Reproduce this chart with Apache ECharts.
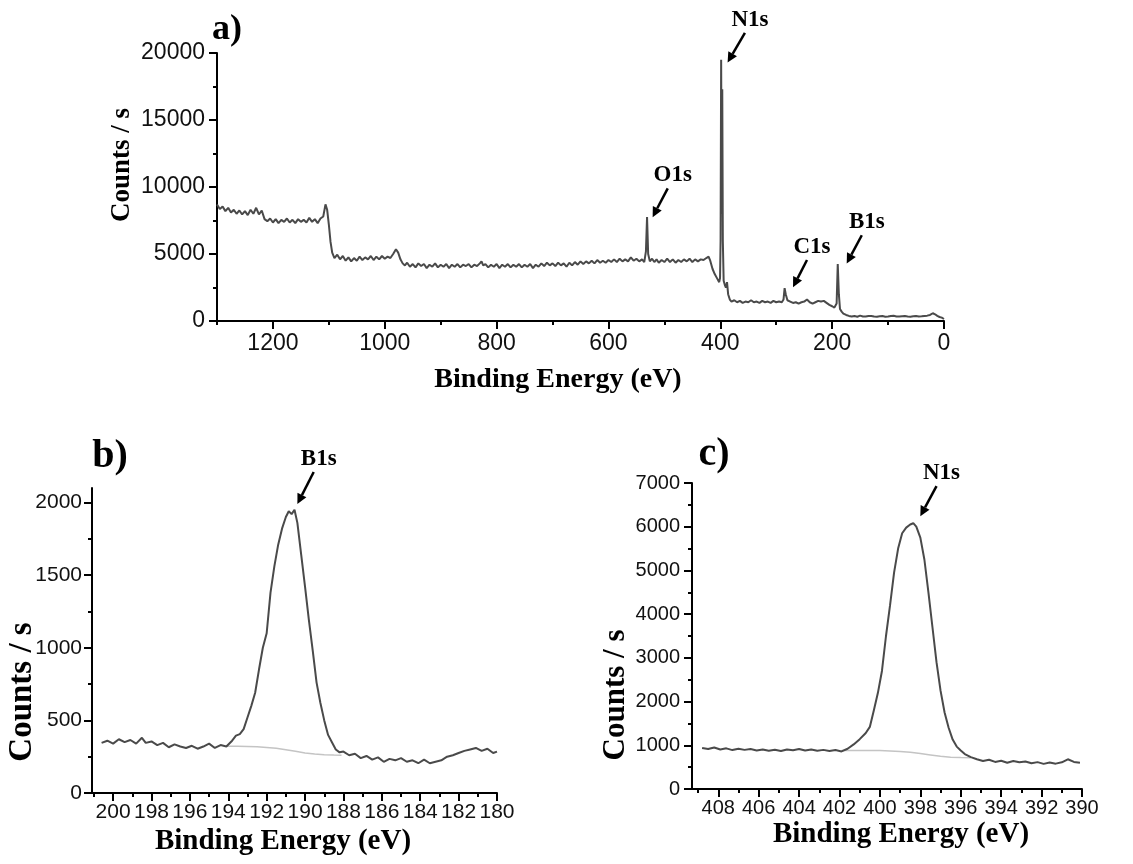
<!DOCTYPE html>
<html>
<head>
<meta charset="utf-8">
<title>XPS spectra</title>
<script src="https://cdn.jsdelivr.net/npm/echarts@6.0.0/dist/echarts.min.js"></script>
<style>
html, body { margin: 0; padding: 0; background: #fff; }
#chart { width: 1133px; height: 864px; }
</style>
</head>
<body>
<div id="chart"></div>
<script>
// a) survey spectrum [binding energy eV, counts/s]
const surveyData = [
  [1300, 8700], [1295, 8350], [1290, 8550], [1285, 8200], [1280, 8450], [1275, 8100], [1270, 8300], [1265, 8000],
  [1260, 8250], [1255, 7950], [1250, 8200], [1245, 7900], [1240, 8300], [1235, 8000], [1230, 8450], [1225, 7950],
  [1220, 8250], [1215, 7600], [1210, 7450], [1205, 7650], [1200, 7350], [1195, 7600], [1190, 7300], [1185, 7550],
  [1180, 7400], [1175, 7650], [1170, 7350], [1165, 7550], [1160, 7300], [1155, 7600], [1150, 7400], [1145, 7550],
  [1140, 7350], [1135, 7700], [1130, 7400], [1125, 7600], [1120, 7300], [1115, 7650], [1110, 7800], [1106, 8700],
  [1103, 8300], [1100, 7200], [1097, 5900], [1094, 5100], [1090, 4700], [1085, 4950], [1080, 4600], [1075, 4850],
  [1070, 4500], [1065, 4750], [1060, 4450], [1055, 4700], [1050, 4500], [1045, 4800], [1040, 4550], [1035, 4750],
  [1030, 4600], [1025, 4850], [1020, 4550], [1015, 4800], [1010, 4600], [1005, 4850], [1000, 4650], [995, 4800],
  [990, 4700], [985, 5000], [980, 5350], [976, 5100], [972, 4600], [968, 4300], [964, 4150], [960, 4350],
  [955, 4050], [950, 4250], [945, 4000], [940, 4300], [935, 4100], [930, 4250], [925, 3950], [920, 4200],
  [915, 4050], [910, 4300], [905, 4000], [900, 4200], [895, 4050], [890, 4250], [885, 3950], [880, 4200],
  [875, 4050], [870, 4250], [865, 4000], [860, 4200], [855, 4100], [850, 4250], [845, 4000], [840, 4200],
  [835, 4100], [830, 4300], [827, 4450], [824, 4150], [820, 4250], [815, 4000], [810, 4200], [805, 4050],
  [800, 4250], [795, 3950], [790, 4200], [785, 4050], [780, 4250], [775, 4000], [770, 4200], [765, 4050],
  [760, 4250], [755, 4000], [750, 4200], [745, 4050], [740, 4250], [735, 3950], [730, 4200], [725, 4050],
  [720, 4300], [715, 4100], [710, 4350], [705, 4150], [700, 4300], [695, 4100], [690, 4350], [685, 4150],
  [680, 4300], [675, 4050], [670, 4350], [665, 4150], [660, 4400], [655, 4200], [650, 4450], [645, 4250],
  [640, 4450], [635, 4300], [630, 4500], [625, 4300], [620, 4550], [615, 4350], [610, 4500], [605, 4350],
  [600, 4550], [595, 4400], [590, 4600], [585, 4400], [580, 4650], [575, 4450], [570, 4600], [565, 4450],
  [560, 4750], [555, 4500], [550, 4650], [545, 4450], [540, 4600], [536, 4400], [533, 5200], [531, 7750],
  [529, 5000], [526, 4450], [522, 4650], [518, 4400], [514, 4600], [510, 4350], [505, 4550], [500, 4400],
  [495, 4650], [490, 4400], [485, 4600], [480, 4350], [475, 4550], [470, 4400], [465, 4600], [460, 4450],
  [455, 4650], [450, 4400], [445, 4600], [440, 4450], [435, 4600], [430, 4550], [425, 4700], [421, 4800],
  [418, 4500], [414, 3900], [410, 3500], [406, 3200], [402, 2900], [400.5, 3200], [399.5, 6000], [398.5, 19500],
  [397.5, 8000], [396.5, 17300], [395.5, 6000], [394, 3000], [392, 2700], [390, 2500], [388, 2900], [386, 2000],
  [383, 1600], [380, 1450], [375, 1550], [370, 1400], [365, 1500], [360, 1350], [355, 1450], [350, 1400],
  [345, 1550], [340, 1400], [335, 1450], [330, 1350], [325, 1500], [320, 1400], [315, 1450], [310, 1350],
  [305, 1500], [300, 1400], [295, 1450], [290, 1400], [287, 1600], [285, 2450], [283, 2000], [280, 1550],
  [275, 1450], [270, 1350], [265, 1400], [260, 1300], [255, 1400], [250, 1450], [245, 1600], [240, 1400],
  [235, 1300], [230, 1400], [225, 1500], [220, 1450], [215, 1500], [210, 1350], [205, 1200], [200, 1100],
  [196, 1000], [192, 1300], [190, 4250], [188, 2000], [186, 900], [183, 700], [180, 550], [175, 450],
  [170, 380], [165, 330], [160, 370], [155, 320], [150, 400], [145, 340], [140, 330], [135, 370],
  [130, 380], [125, 330], [120, 320], [115, 360], [110, 370], [105, 320], [100, 340], [95, 380],
  [90, 390], [85, 340], [80, 330], [75, 360], [70, 370], [65, 330], [60, 320], [55, 350],
  [50, 380], [45, 340], [40, 350], [35, 380], [30, 400], [25, 450], [20, 580], [16, 500],
  [12, 380], [8, 300], [4, 250], [0, 150]
];

// b) B1s high resolution
const b1sData = [
  [200.6, 345], [200.3, 360], [200.0, 340], [199.7, 370], [199.4, 350], [199.1, 365], [198.8, 340], [198.5, 380],
  [198.3, 345], [198.0, 355], [197.7, 330], [197.4, 345], [197.1, 315], [196.8, 335], [196.5, 320], [196.2, 310],
  [195.9, 325], [195.6, 305], [195.3, 320], [195.0, 340], [194.7, 310], [194.4, 330], [194.1, 320], [193.8, 360],
  [193.6, 395], [193.4, 405], [193.2, 440], [193.0, 520], [192.8, 600], [192.6, 690], [192.4, 850], [192.2, 1000],
  [192.0, 1100], [191.8, 1380], [191.6, 1560], [191.4, 1710], [191.2, 1820], [191.0, 1900], [190.85, 1940], [190.7, 1920],
  [190.55, 1950], [190.4, 1860], [190.2, 1640], [190.0, 1420], [189.8, 1190], [189.6, 980], [189.4, 760], [189.2, 620],
  [189.0, 500], [188.8, 400], [188.6, 350], [188.4, 300], [188.2, 280], [188.0, 285], [187.7, 260], [187.4, 270],
  [187.1, 240], [186.8, 255], [186.5, 230], [186.2, 245], [185.9, 215], [185.6, 235], [185.3, 225], [185.0, 240],
  [184.7, 215], [184.4, 225], [184.1, 205], [183.8, 230], [183.5, 205], [183.2, 215], [182.9, 225], [182.6, 250],
  [182.3, 260], [182.0, 275], [181.7, 290], [181.4, 300], [181.1, 310], [180.8, 290], [180.5, 305], [180.2, 275],
  [180.0, 285]
];
const b1sBackground = [
  [194.1, 322], [193.5, 322], [193.0, 320], [192.5, 318], [192.0, 314], [191.5, 308], [191.0, 298],
  [190.5, 287], [190.0, 276], [189.5, 268], [189.0, 263], [188.5, 261], [188.1, 260]
];

// c) N1s high resolution
const n1sData = [
  [408.8, 940], [408.5, 915], [408.2, 950], [407.9, 905], [407.6, 930], [407.3, 890], [407.0, 920], [406.7, 895],
  [406.4, 915], [406.1, 880], [405.8, 905], [405.5, 875], [405.2, 900], [404.9, 870], [404.6, 905], [404.3, 885],
  [404.0, 915], [403.7, 880], [403.4, 905], [403.1, 875], [402.8, 895], [402.5, 870], [402.2, 890], [401.9, 860],
  [401.6, 920], [401.3, 1020], [401.0, 1140], [400.7, 1280], [400.5, 1420], [400.3, 1800], [400.1, 2200], [399.9, 2700],
  [399.7, 3500], [399.5, 4200], [399.3, 4950], [399.1, 5500], [398.9, 5850], [398.7, 5980], [398.5, 6050], [398.35, 6080],
  [398.2, 6000], [398.0, 5750], [397.8, 5250], [397.6, 4500], [397.4, 3700], [397.2, 2900], [397.0, 2250], [396.8, 1750],
  [396.6, 1400], [396.4, 1130], [396.2, 970], [396.0, 880], [395.8, 800], [395.5, 730], [395.2, 680], [394.9, 640],
  [394.6, 670], [394.3, 620], [394.0, 645], [393.7, 600], [393.4, 640], [393.1, 610], [392.8, 630], [392.5, 590],
  [392.2, 615], [391.9, 575], [391.6, 605], [391.3, 580], [391.0, 610], [390.7, 680], [390.4, 620], [390.1, 600]
];
const n1sBackground = [
  [401.9, 880], [401.0, 880], [400.0, 878], [399.5, 872], [399.0, 860], [398.5, 840], [398.0, 810],
  [397.5, 780], [397.0, 750], [396.5, 728], [396.0, 718], [395.5, 715]
];

// tick values
const surveyMajorX = [0, 200, 400, 600, 800, 1000, 1200];
const surveyMinorX = [100, 300, 500, 700, 900, 1100, 1300];
const surveyMajorY = [0, 5000, 10000, 15000, 20000];
const surveyMinorY = [2500, 7500, 12500, 17500];
const b1sMajorX = [180, 182, 184, 186, 188, 190, 192, 194, 196, 198, 200];
const b1sMinorX = [181, 183, 185, 187, 189, 191, 193, 195, 197, 199, 201];
const b1sMajorY = [0, 500, 1000, 1500, 2000];
const b1sMinorY = [250, 750, 1250, 1750];
const n1sMajorX = [390, 392, 394, 396, 398, 400, 402, 404, 406, 408];
const n1sMinorX = [391, 393, 395, 397, 399, 401, 403, 405, 407, 409];
const n1sMajorY = [0, 1000, 2000, 3000, 4000, 5000, 6000, 7000];
const n1sMinorY = [500, 1500, 2500, 3500, 4500, 5500, 6500];

// peak annotations: [label, seriesIndex, arrow start E, start counts, arrow end E, end counts]
const peakLabels = [
  ["N1s", 0, 356, 21500, 387, 19300],
  ["O1s", 0, 494, 9900, 521, 7750],
  ["C1s", 0, 245, 4550, 270, 2520],
  ["B1s", 0, 147, 6400, 174, 4300],
  ["B1s", 1, 189.55, 2210, 190.4, 1990],
  ["N1s", 3, 397.2, 6930, 398.0, 6240]
];

const SANS = "Liberation Sans, Arial, sans-serif";
const SERIF = "Liberation Serif, Times New Roman, serif";
const INK = "#000";
const LINE = "#4a4a4a";

function makeAxes(dim, gridIndex, min, max, inverse, majors, minors, fontSize, margin) {
  const major = {
    type: "value",
    gridIndex: gridIndex,
    position: dim === "x" ? "bottom" : "left",
    min: min,
    max: max,
    inverse: inverse,
    splitLine: { show: false },
    axisLine: { show: true, onZero: false, lineStyle: { color: INK, width: 2 } },
    axisTick: { show: true, inside: false, length: 8, customValues: majors, lineStyle: { color: INK, width: 2 } },
    axisLabel: {
      show: true,
      customValues: majors,
      margin: margin,
      color: "#111",
      fontFamily: SANS,
      fontSize: fontSize,
      formatter: (v) => String(v),
    },
  };
  const minor = {
    type: "value",
    gridIndex: gridIndex,
    position: dim === "x" ? "bottom" : "left",
    min: min,
    max: max,
    inverse: inverse,
    splitLine: { show: false },
    axisLine: { show: false, onZero: false },
    axisTick: { show: true, inside: false, length: 4, customValues: minors, lineStyle: { color: INK, width: 2 } },
    axisLabel: { show: false },
  };
  return [major, minor];
}

function lineSeries(xIdx, yIdx, data, color, width) {
  return {
    type: "line",
    xAxisIndex: xIdx,
    yAxisIndex: yIdx,
    data: data,
    symbol: "none",
    smooth: false,
    lineStyle: { color: color, width: width },
    z: color === LINE ? 3 : 2,
  };
}

const myChart = echarts.init(document.getElementById("chart"), null, { renderer: "canvas" });

const option = {
  backgroundColor: "#fff",
  animation: false,
  grid: [
    { left: 217, top: 53, width: 727, height: 268 },
    { left: 92, top: 488, width: 405, height: 305 },
    { left: 692, top: 483, width: 390, height: 306 },
  ],
  xAxis: [
    ...makeAxes("x", 0, 0, 1300, true, surveyMajorX, surveyMinorX, 23, 11),
    ...makeAxes("x", 1, 180, 201.1, true, b1sMajorX, b1sMinorX, 21, 9),
    ...makeAxes("x", 2, 390, 409.3, true, n1sMajorX, n1sMinorX, 20, 9),
  ],
  yAxis: [
    ...makeAxes("y", 0, 0, 20000, false, surveyMajorY, surveyMinorY, 23, 12),
    ...makeAxes("y", 1, 0, 2100, false, b1sMajorY, b1sMinorY, 21, 10),
    ...makeAxes("y", 2, 0, 7000, false, n1sMajorY, n1sMinorY, 20, 12),
  ],
  series: [
    lineSeries(0, 0, surveyData, LINE, 2),
    lineSeries(2, 2, b1sData, LINE, 2),
    lineSeries(2, 2, b1sBackground, "#c4c4c4", 1.5),
    lineSeries(4, 4, n1sData, LINE, 2),
    lineSeries(4, 4, n1sBackground, "#c4c4c4", 1.5),
  ],
};
myChart.setOption(option, true);

function txt(text, x, y, size, rotate) {
  return {
    type: "text",
    x: x,
    y: y,
    rotation: rotate ? Math.PI / 2 : 0,
    z: 10,
    style: {
      text: text,
      font: "bold " + size + "px " + SERIF,
      fill: INK,
      textAlign: "center",
      textVerticalAlign: "middle",
      align: "center",
      verticalAlign: "middle",
    },
  };
}

// panel letters and axis names
const graphics = [
  txt("a)", 227, 30, 36),
  txt("b)", 110, 457, 40),
  txt("c)", 714, 455, 40),
  txt("Binding Energy (eV)", 558, 380, 28),
  txt("Binding Energy (eV)", 283, 842, 29),
  txt("Binding Energy (eV)", 901, 835, 29),
  txt("Counts / s", 122, 165, 27, true),
  txt("Counts / s", 22, 692, 33, true),
  txt("Counts / s", 616, 695, 31, true),
];

// arrows placed through the data scales
peakLabels.forEach(function (p) {
  const from = myChart.convertToPixel({ seriesIndex: p[1] }, [p[2], p[3]]);
  const to = myChart.convertToPixel({ seriesIndex: p[1] }, [p[4], p[5]]);
  const dx = to[0] - from[0];
  const dy = to[1] - from[1];
  const len = Math.sqrt(dx * dx + dy * dy);
  const ux = dx / len;
  const uy = dy / len;
  const head = 10;
  const bx = to[0] - ux * head;
  const by = to[1] - uy * head;
  graphics.push({
    type: "line",
    z: 10,
    shape: { x1: from[0], y1: from[1], x2: bx, y2: by },
    style: { stroke: INK, lineWidth: 2.5 },
  });
  graphics.push({
    type: "polygon",
    z: 10,
    shape: {
      points: [
        [to[0], to[1]],
        [bx - uy * 5, by + ux * 5],
        [bx + uy * 5, by - ux * 5],
      ],
    },
    style: { fill: INK },
  });
  graphics.push(txt(p[0], from[0] + 5, from[1] - 13, 23));
});

myChart.setOption({ graphic: graphics });

window.addEventListener("resize", () => {
  myChart.resize();
});
</script>
</body>
</html>
